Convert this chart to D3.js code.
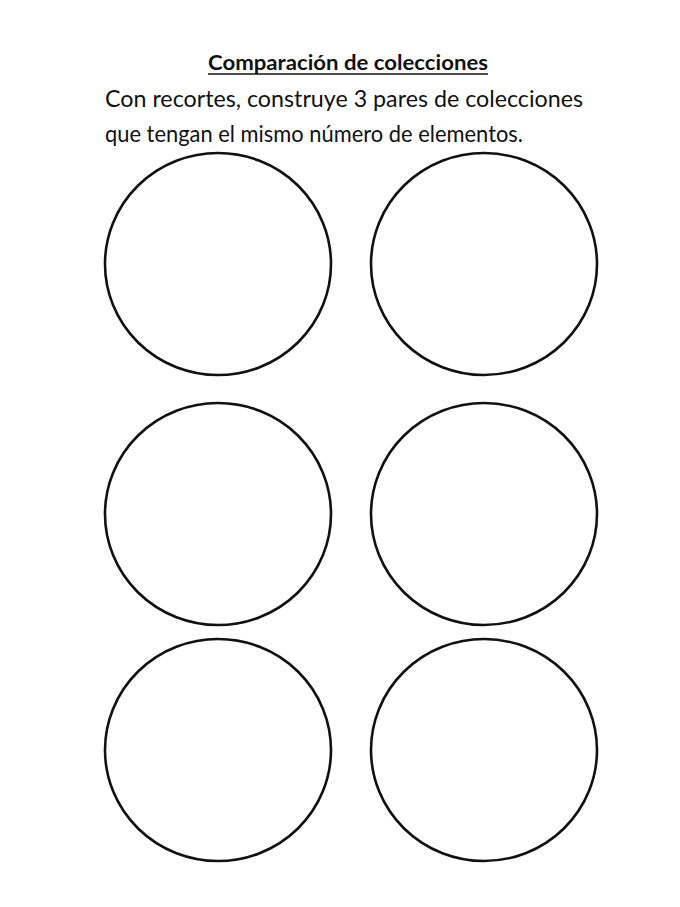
<!DOCTYPE html>
<html>
<head>
<meta charset="utf-8">
<script src="https://cdn.jsdelivr.net/npm/d3@7"></script>
<style>
  html, body { margin: 0; padding: 0; background: #fff; }
  svg { display: block; }
</style>
</head>
<body>
<svg id="sheet" width="680" height="907"></svg>
<script>
// worksheet content
const title = 'Comparación de colecciones'
const instructions = [
  'Con recortes, construye 3 pares de colecciones',
  'que tengan el mismo número de elementos.'
]
const columns = ['izquierda', 'derecha']
const rows = ['par 1', 'par 2', 'par 3']

const svg = d3.select('#sheet')
const font = 'Lato, "Open Sans", sans-serif'

// title, underlined
const titleText = svg.append('text')
  .attr('x', 208).attr('y', 70)
  .attr('textLength', 280).attr('lengthAdjust', 'spacingAndGlyphs')
  .style('font-family', font).style('font-size', '21px').style('font-weight', 700)
  .attr('fill', '#111')
  .text(title)
svg.append('line')
  .attr('x1', 208).attr('x2', 488)
  .attr('y1', 74).attr('y2', 74)
  .attr('stroke', '#111').attr('stroke-width', 1.6)

// instruction lines
const lineY = d3.scalePoint().domain(d3.range(instructions.length)).range([107, 142])
const lineW = [478, 418]
svg.selectAll('.instr')
  .data(instructions)
  .enter()
  .append('text')
  .attr('class', 'instr')
  .attr('x', 105)
  .attr('y', (d, i) => lineY(i))
  .attr('textLength', (d, i) => lineW[i]).attr('lengthAdjust', 'spacingAndGlyphs')
  .style('font-family', font).style('font-size', '23px')
  .attr('fill', '#111')
  .text(d => d)

// circles: one per column and row
const x = d3.scalePoint().domain(columns).range([218, 484])
const y = d3.scaleOrdinal().domain(rows).range([264, 514, 750])

const cells = rows.flatMap(r => columns.map(c => ({ row: r, col: c })))
svg.selectAll('.coleccion')
  .data(cells)
  .enter()
  .append('ellipse')
  .attr('class', 'coleccion')
  .attr('cx', d => x(d.col))
  .attr('cy', d => y(d.row))
  .attr('rx', 113)
  .attr('ry', 111)
  .attr('fill', 'none')
  .attr('stroke', '#111')
  .attr('stroke-width', 2.6)
</script>
</body>
</html>
